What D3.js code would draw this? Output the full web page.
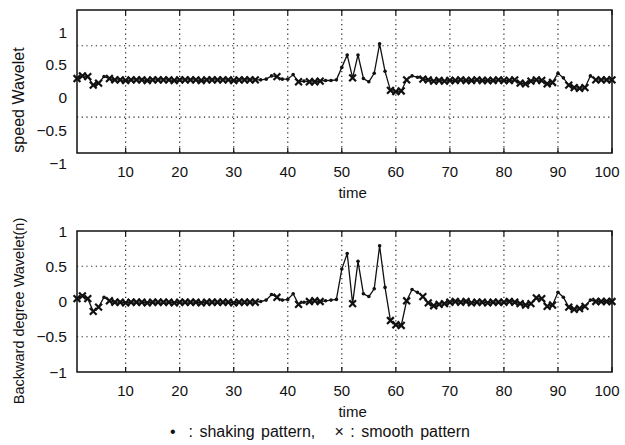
<!DOCTYPE html>
<html>
<head>
<meta charset="utf-8">
<script src="https://cdn.jsdelivr.net/npm/d3@7"></script>
<style>
  body { margin: 0; background: #fff; }
  text { font-family: "Liberation Sans", Arial, sans-serif; fill: #111; }
</style>
</head>
<body>
<script>
// time index 1..100
var time = d3.range(1, 101);

// speed wavelet values (top panel)
var speedValues = [
  0.29, 0.33, 0.32, 0.19, 0.22, 0.32, 0.29, 0.27, 0.27, 0.26,
  0.27, 0.27, 0.27, 0.26, 0.27, 0.27, 0.27, 0.27, 0.26, 0.27,
  0.27, 0.27, 0.27, 0.26, 0.27, 0.27, 0.27, 0.27, 0.27, 0.26,
  0.27, 0.27, 0.27, 0.27, 0.27, 0.28, 0.33, 0.32, 0.28, 0.28,
  0.35, 0.24, 0.25, 0.24, 0.24, 0.25, 0.26, 0.26, 0.27, 0.46,
  0.65, 0.30, 0.65, 0.29, 0.24, 0.37, 0.82, 0.40, 0.11, 0.09,
  0.10, 0.27, 0.33, 0.31, 0.28, 0.27, 0.25, 0.26, 0.25, 0.26,
  0.26, 0.27, 0.26, 0.26, 0.27, 0.26, 0.26, 0.26, 0.27, 0.26,
  0.26, 0.27, 0.22, 0.21, 0.25, 0.27, 0.26, 0.21, 0.23, 0.37,
  0.30, 0.19, 0.15, 0.14, 0.15, 0.33, 0.27, 0.27, 0.27, 0.27
];

// backward degree wavelet values (bottom panel)
var backwardValues = [
  0.04, 0.08, 0.04, -0.14, -0.08, 0.06, 0.01, -0.01, -0.01, -0.02,
  -0.01, -0.01, -0.01, -0.02, -0.01, -0.01, -0.01, -0.01, -0.02, -0.01,
  -0.01, -0.01, -0.01, -0.02, -0.01, -0.01, -0.01, -0.01, -0.01, -0.02,
  -0.01, -0.01, -0.01, -0.01, 0.00, 0.02, 0.10, 0.06, 0.02, 0.03,
  0.11, -0.04, -0.01, 0.00, 0.01, 0.00, 0.01, 0.02, 0.03, 0.46,
  0.68, -0.03, 0.57, 0.11, 0.07, 0.18, 0.79, 0.20, -0.27, -0.33,
  -0.34, 0.01, 0.17, 0.13, 0.07, -0.02, -0.06, -0.04, -0.03, -0.01,
  0.00, -0.01, 0.00, -0.02, -0.01, -0.01, -0.02, -0.01, -0.01, -0.01,
  0.00, -0.01, -0.03, -0.05, -0.03, 0.05, 0.04, -0.07, -0.05, 0.13,
  0.06, -0.08, -0.11, -0.10, -0.07, 0.02, 0.00, 0.00, 0.00, 0.00
];

// time ranges classed as smooth pattern (x); the rest are shaking (dot)
var smoothRanges = [[1, 5], [7, 34], [38, 38], [42, 42], [44, 46], [52, 52],
                    [59, 62], [65, 89], [92, 95], [97, 100]];

var xTicks = [10, 20, 30, 40, 50, 60, 70, 80, 90, 100];
var yTicks = [1, 0.5, 0, -0.5, -1];
var yTickLabels = ["1", "0.5", "0", "\u22120.5", "\u22121"];
var topGrid = [0.79, -0.3];
var bottomGrid = [0.5, -0.5];

var W = 625, H = 445;
var svg = d3.select("body").append("svg")
    .attr("width", W)
    .attr("height", H)
    .style("background", "#fff");

function isSmooth(t) {
    return smoothRanges.some(r => t >= r[0] && t <= r[1]);
}

function drawPanel(cfg) {
    var x = d3.scaleLinear().domain([1, 100]).range([77, 612]);
    var y = d3.scaleLinear().domain(cfg.yDomain).range([cfg.bottom, cfg.top]);
    var g = svg.append("g");
    var data = time.map((t, i) => ({t: t, v: cfg.values[i], smooth: isSmooth(t)}));

    // grid
    g.selectAll("line.vgrid")
        .data(xTicks.filter(d => d < 100))
        .enter().append("line")
        .attr("x1", d => x(d)).attr("x2", d => x(d))
        .attr("y1", cfg.top).attr("y2", cfg.bottom)
        .attr("stroke", "#222").attr("stroke-width", 1.2)
        .attr("stroke-dasharray", "1.2,3.5");
    g.selectAll("line.hgrid")
        .data(cfg.grid)
        .enter().append("line")
        .attr("x1", 77).attr("x2", 612)
        .attr("y1", d => y(d)).attr("y2", d => y(d))
        .attr("stroke", "#222").attr("stroke-width", 1.2)
        .attr("stroke-dasharray", "1.2,3.5");

    // ticks inside
    xTicks.forEach(d => {
        g.append("line").attr("x1", x(d)).attr("x2", x(d))
            .attr("y1", cfg.bottom).attr("y2", cfg.bottom - 5)
            .attr("stroke", "#111").attr("stroke-width", 1.2);
        g.append("line").attr("x1", x(d)).attr("x2", x(d))
            .attr("y1", cfg.top).attr("y2", cfg.top + 5)
            .attr("stroke", "#111").attr("stroke-width", 1.2);
    });

    // box
    g.append("rect")
        .attr("x", 77).attr("y", cfg.top)
        .attr("width", 612 - 77).attr("height", cfg.bottom - cfg.top)
        .attr("fill", "none").attr("stroke", "#111").attr("stroke-width", 1.5);

    // tick labels
    g.selectAll("text.xt")
        .data(xTicks)
        .enter().append("text")
        .attr("x", d => x(d) - (d === 100 ? 5 : 0))
        .attr("y", cfg.bottom + 24)
        .attr("text-anchor", "middle")
        .style("font-size", "15px")
        .text(d => d);
    g.selectAll("text.yt")
        .data(yTicks)
        .enter().append("text")
        .attr("x", 67)
        .attr("y", d => y(d) + 5.5)
        .attr("text-anchor", "end")
        .style("font-size", "15.5px")
        .text((d, i) => yTickLabels[i]);

    // x label
    g.append("text")
        .attr("x", x(52))
        .attr("y", cfg.bottom + 45)
        .attr("text-anchor", "middle")
        .style("font-size", "15px")
        .text("time");

    // y label
    g.append("text")
        .attr("transform", `translate(24, ${cfg.labelY}) rotate(-90)`)
        .attr("text-anchor", "middle")
        .style("font-size", cfg.labelSize)
        .text(cfg.label);

    // line
    var line = d3.line().x(d => x(d.t)).y(d => y(d.v));
    g.append("path")
        .datum(data)
        .attr("d", line)
        .attr("fill", "none")
        .attr("stroke", "#111")
        .attr("stroke-width", 1.3);

    // markers
    var s = 3.4;
    g.selectAll("path.cross")
        .data(data.filter(d => d.smooth))
        .enter().append("path")
        .attr("d", d => {
            var cx = x(d.t), cy = y(d.v);
            return `M${cx - s},${cy - s}L${cx + s},${cy + s}M${cx - s},${cy + s}L${cx + s},${cy - s}`;
        })
        .attr("stroke", "#111")
        .attr("stroke-width", 2.2);
    g.selectAll("circle.dot")
        .data(data.filter(d => !d.smooth))
        .enter().append("circle")
        .attr("cx", d => x(d.t))
        .attr("cy", d => y(d.v))
        .attr("r", 1.8)
        .attr("fill", "#111");
}

drawPanel({
    values: speedValues,
    yDomain: [-0.847, 1.336],
    top: 10, bottom: 153,
    grid: topGrid,
    label: "speed Wavelet",
    labelSize: "16px",
    labelY: 100
});

drawPanel({
    values: backwardValues,
    yDomain: [-1, 1],
    top: 231, bottom: 372,
    grid: bottomGrid,
    label: "Backward degree Wavelet(n)",
    labelSize: "14.5px",
    labelY: 311
});

// legend
svg.append("text")
    .attr("x", 320)
    .attr("y", 437)
    .attr("text-anchor", "middle")
    .style("font-size", "16px")
    .style("word-spacing", "2px")
    .attr("xml:space", "preserve")
    .text("\u2022  : shaking pattern,   \u00d7 : smooth pattern");
</script>
</body>
</html>
